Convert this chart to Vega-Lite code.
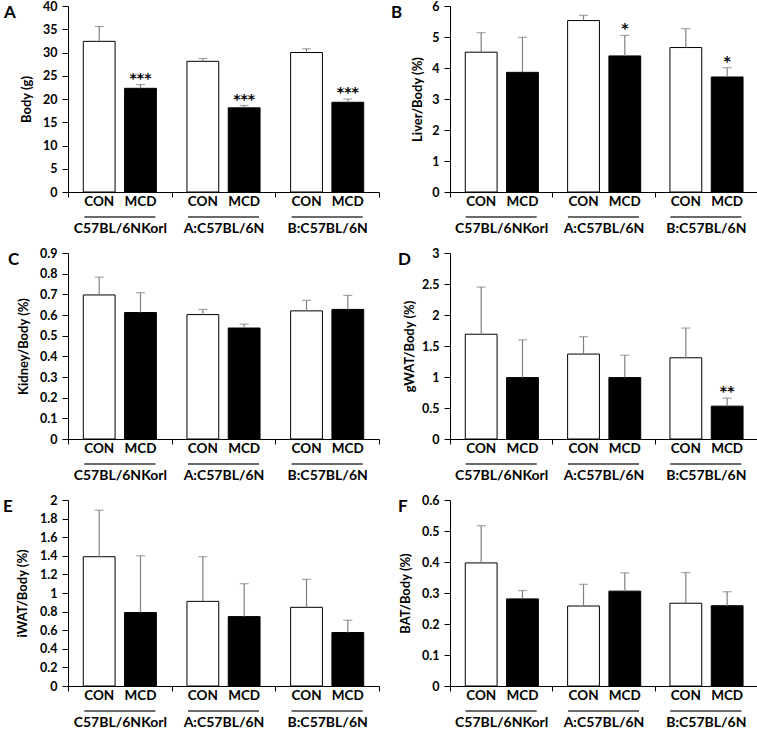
{
  "$schema": "https://vega.github.io/schema/vega-lite/v6.json",
  "background": "white",
  "padding": {"left": 3, "top": 0, "right": 0, "bottom": 0},
  "datasets": {
    "d": [
      {"panel": "A", "strain": "C57BL/6NKorl", "group": "CON", "mean": 32.4, "upper": 35.6, "sig": ""},
      {"panel": "A", "strain": "C57BL/6NKorl", "group": "MCD", "mean": 22.3, "upper": 23.1, "sig": "***"},
      {"panel": "A", "strain": "A:C57BL/6N", "group": "CON", "mean": 28.1, "upper": 28.7, "sig": ""},
      {"panel": "A", "strain": "A:C57BL/6N", "group": "MCD", "mean": 18.1, "upper": 18.6, "sig": "***"},
      {"panel": "A", "strain": "B:C57BL/6N", "group": "CON", "mean": 30.0, "upper": 30.8, "sig": ""},
      {"panel": "A", "strain": "B:C57BL/6N", "group": "MCD", "mean": 19.3, "upper": 20.0, "sig": "***"},
      {"panel": "B", "strain": "C57BL/6NKorl", "group": "CON", "mean": 4.51, "upper": 5.14, "sig": ""},
      {"panel": "B", "strain": "C57BL/6NKorl", "group": "MCD", "mean": 3.86, "upper": 4.99, "sig": ""},
      {"panel": "B", "strain": "A:C57BL/6N", "group": "CON", "mean": 5.53, "upper": 5.70, "sig": ""},
      {"panel": "B", "strain": "A:C57BL/6N", "group": "MCD", "mean": 4.39, "upper": 5.05, "sig": "*"},
      {"panel": "B", "strain": "B:C57BL/6N", "group": "CON", "mean": 4.66, "upper": 5.27, "sig": ""},
      {"panel": "B", "strain": "B:C57BL/6N", "group": "MCD", "mean": 3.71, "upper": 4.01, "sig": "*"},
      {"panel": "C", "strain": "C57BL/6NKorl", "group": "CON", "mean": 0.697, "upper": 0.783, "sig": ""},
      {"panel": "C", "strain": "C57BL/6NKorl", "group": "MCD", "mean": 0.612, "upper": 0.708, "sig": ""},
      {"panel": "C", "strain": "A:C57BL/6N", "group": "CON", "mean": 0.602, "upper": 0.627, "sig": ""},
      {"panel": "C", "strain": "A:C57BL/6N", "group": "MCD", "mean": 0.537, "upper": 0.556, "sig": ""},
      {"panel": "C", "strain": "B:C57BL/6N", "group": "CON", "mean": 0.620, "upper": 0.671, "sig": ""},
      {"panel": "C", "strain": "B:C57BL/6N", "group": "MCD", "mean": 0.627, "upper": 0.695, "sig": ""},
      {"panel": "D", "strain": "C57BL/6NKorl", "group": "CON", "mean": 1.69, "upper": 2.45, "sig": ""},
      {"panel": "D", "strain": "C57BL/6NKorl", "group": "MCD", "mean": 0.99, "upper": 1.60, "sig": ""},
      {"panel": "D", "strain": "A:C57BL/6N", "group": "CON", "mean": 1.37, "upper": 1.65, "sig": ""},
      {"panel": "D", "strain": "A:C57BL/6N", "group": "MCD", "mean": 0.99, "upper": 1.35, "sig": ""},
      {"panel": "D", "strain": "B:C57BL/6N", "group": "CON", "mean": 1.31, "upper": 1.79, "sig": ""},
      {"panel": "D", "strain": "B:C57BL/6N", "group": "MCD", "mean": 0.53, "upper": 0.66, "sig": "**"},
      {"panel": "E", "strain": "C57BL/6NKorl", "group": "CON", "mean": 1.39, "upper": 1.89, "sig": ""},
      {"panel": "E", "strain": "C57BL/6NKorl", "group": "MCD", "mean": 0.79, "upper": 1.40, "sig": ""},
      {"panel": "E", "strain": "A:C57BL/6N", "group": "CON", "mean": 0.91, "upper": 1.39, "sig": ""},
      {"panel": "E", "strain": "A:C57BL/6N", "group": "MCD", "mean": 0.746, "upper": 1.10, "sig": ""},
      {"panel": "E", "strain": "B:C57BL/6N", "group": "CON", "mean": 0.846, "upper": 1.146, "sig": ""},
      {"panel": "E", "strain": "B:C57BL/6N", "group": "MCD", "mean": 0.575, "upper": 0.707, "sig": ""},
      {"panel": "F", "strain": "C57BL/6NKorl", "group": "CON", "mean": 0.397, "upper": 0.517, "sig": ""},
      {"panel": "F", "strain": "C57BL/6NKorl", "group": "MCD", "mean": 0.281, "upper": 0.308, "sig": ""},
      {"panel": "F", "strain": "A:C57BL/6N", "group": "CON", "mean": 0.258, "upper": 0.328, "sig": ""},
      {"panel": "F", "strain": "A:C57BL/6N", "group": "MCD", "mean": 0.306, "upper": 0.365, "sig": ""},
      {"panel": "F", "strain": "B:C57BL/6N", "group": "CON", "mean": 0.267, "upper": 0.366, "sig": ""},
      {"panel": "F", "strain": "B:C57BL/6N", "group": "MCD", "mean": 0.259, "upper": 0.304, "sig": ""}
    ]
  },
  "data": {"name": "d"},
  "columns": 2,
  "bounds": "flush",
  "spacing": {"row": 61, "column": 71},
  "concat": [
    {
      "width": 311, "height": 186,
      "title": {"text": "A", "dx": -64},
      "transform": [{"filter": "datum.panel === 'A'"}],
      "encoding": {"x": {"field": "strain", "type": "nominal", "sort": ["C57BL/6NKorl", "A:C57BL/6N", "B:C57BL/6N"], "scale": {"paddingInner": 0, "paddingOuter": 0}, "axis": {"title": null}}},
      "layer": [
        {"mark": {"type": "bar", "stroke": "black", "strokeWidth": 1}, "encoding": {"xOffset": {"field": "group", "type": "nominal", "sort": ["CON", "MCD"], "scale": {"paddingInner": 0.23, "paddingOuter": 0.37}}, "y": {"field": "mean", "type": "quantitative", "scale": {"domain": [0, 40]}, "axis": {"title": "Body (g)", "tickCount": 8, "titlePadding": 9}}, "fill": {"field": "group", "type": "nominal", "scale": {"domain": ["CON", "MCD"], "range": ["white", "black"]}, "legend": null}}},
        {"mark": {"type": "rule", "color": "#808080", "strokeWidth": 1.2}, "encoding": {"xOffset": {"field": "group", "type": "nominal"}, "y": {"field": "mean", "type": "quantitative"}, "y2": {"field": "upper"}}},
        {"mark": {"type": "tick", "color": "#808080", "size": 9, "thickness": 1.2}, "encoding": {"xOffset": {"field": "group", "type": "nominal"}, "y": {"field": "upper", "type": "quantitative"}}},
        {"mark": {"type": "text", "baseline": "alphabetic", "dy": -2, "fontSize": 14, "fontWeight": "bold", "font": "DejaVu Sans"}, "encoding": {"xOffset": {"field": "group", "type": "nominal"}, "y": {"field": "upper", "type": "quantitative"}, "text": {"field": "sig"}}},
        {"mark": {"type": "text", "baseline": "top", "dy": 3, "fontSize": 13.5, "fontWeight": "bold", "font": "Lato"}, "encoding": {"xOffset": {"field": "group", "type": "nominal"}, "y": {"datum": 0}, "text": {"field": "group"}}},
        {"mark": {"type": "tick", "color": "black", "size": 71, "thickness": 1.2, "yOffset": 25}, "encoding": {"y": {"datum": 0}}}
      ]
    },
    {
      "width": 307, "height": 186,
      "title": {"text": "B", "dx": -59},
      "transform": [{"filter": "datum.panel === 'B'"}],
      "encoding": {"x": {"field": "strain", "type": "nominal", "sort": ["C57BL/6NKorl", "A:C57BL/6N", "B:C57BL/6N"], "scale": {"paddingInner": 0, "paddingOuter": 0}, "axis": {"title": null}}},
      "layer": [
        {"mark": {"type": "bar", "stroke": "black", "strokeWidth": 1}, "encoding": {"xOffset": {"field": "group", "type": "nominal", "sort": ["CON", "MCD"], "scale": {"paddingInner": 0.23, "paddingOuter": 0.37}}, "y": {"field": "mean", "type": "quantitative", "scale": {"domain": [0, 6]}, "axis": {"title": "Liver/Body (%)", "tickCount": 6, "titlePadding": 7}}, "fill": {"field": "group", "type": "nominal", "scale": {"domain": ["CON", "MCD"], "range": ["white", "black"]}, "legend": null}}},
        {"mark": {"type": "rule", "color": "#808080", "strokeWidth": 1.2}, "encoding": {"xOffset": {"field": "group", "type": "nominal"}, "y": {"field": "mean", "type": "quantitative"}, "y2": {"field": "upper"}}},
        {"mark": {"type": "tick", "color": "#808080", "size": 9, "thickness": 1.2}, "encoding": {"xOffset": {"field": "group", "type": "nominal"}, "y": {"field": "upper", "type": "quantitative"}}},
        {"mark": {"type": "text", "baseline": "alphabetic", "dy": -2, "fontSize": 14, "fontWeight": "bold", "font": "DejaVu Sans"}, "encoding": {"xOffset": {"field": "group", "type": "nominal"}, "y": {"field": "upper", "type": "quantitative"}, "text": {"field": "sig"}}},
        {"mark": {"type": "text", "baseline": "top", "dy": 3, "fontSize": 13.5, "fontWeight": "bold", "font": "Lato"}, "encoding": {"xOffset": {"field": "group", "type": "nominal"}, "y": {"datum": 0}, "text": {"field": "group"}}},
        {"mark": {"type": "tick", "color": "black", "size": 71, "thickness": 1.2, "yOffset": 25}, "encoding": {"y": {"datum": 0}}}
      ]
    },
    {
      "width": 311, "height": 186,
      "title": {"text": "C", "dx": -60},
      "transform": [{"filter": "datum.panel === 'C'"}],
      "encoding": {"x": {"field": "strain", "type": "nominal", "sort": ["C57BL/6NKorl", "A:C57BL/6N", "B:C57BL/6N"], "scale": {"paddingInner": 0, "paddingOuter": 0}, "axis": {"title": null}}},
      "layer": [
        {"mark": {"type": "bar", "stroke": "black", "strokeWidth": 1}, "encoding": {"xOffset": {"field": "group", "type": "nominal", "sort": ["CON", "MCD"], "scale": {"paddingInner": 0.23, "paddingOuter": 0.37}}, "y": {"field": "mean", "type": "quantitative", "scale": {"domain": [0, 0.9]}, "axis": {"title": "Kidney/Body (%)", "tickCount": 9, "titlePadding": 9}}, "fill": {"field": "group", "type": "nominal", "scale": {"domain": ["CON", "MCD"], "range": ["white", "black"]}, "legend": null}}},
        {"mark": {"type": "rule", "color": "#808080", "strokeWidth": 1.2}, "encoding": {"xOffset": {"field": "group", "type": "nominal"}, "y": {"field": "mean", "type": "quantitative"}, "y2": {"field": "upper"}}},
        {"mark": {"type": "tick", "color": "#808080", "size": 9, "thickness": 1.2}, "encoding": {"xOffset": {"field": "group", "type": "nominal"}, "y": {"field": "upper", "type": "quantitative"}}},
        {"mark": {"type": "text", "baseline": "top", "dy": 3, "fontSize": 13.5, "fontWeight": "bold", "font": "Lato"}, "encoding": {"xOffset": {"field": "group", "type": "nominal"}, "y": {"datum": 0}, "text": {"field": "group"}}},
        {"mark": {"type": "tick", "color": "black", "size": 71, "thickness": 1.2, "yOffset": 25}, "encoding": {"y": {"datum": 0}}}
      ]
    },
    {
      "width": 307, "height": 186,
      "title": {"text": "D", "dx": -52},
      "transform": [{"filter": "datum.panel === 'D'"}],
      "encoding": {"x": {"field": "strain", "type": "nominal", "sort": ["C57BL/6NKorl", "A:C57BL/6N", "B:C57BL/6N"], "scale": {"paddingInner": 0, "paddingOuter": 0}, "axis": {"title": null}}},
      "layer": [
        {"mark": {"type": "bar", "stroke": "black", "strokeWidth": 1}, "encoding": {"xOffset": {"field": "group", "type": "nominal", "sort": ["CON", "MCD"], "scale": {"paddingInner": 0.23, "paddingOuter": 0.37}}, "y": {"field": "mean", "type": "quantitative", "scale": {"domain": [0, 3]}, "axis": {"title": "gWAT/Body (%)", "tickCount": 6, "titlePadding": 5}}, "fill": {"field": "group", "type": "nominal", "scale": {"domain": ["CON", "MCD"], "range": ["white", "black"]}, "legend": null}}},
        {"mark": {"type": "rule", "color": "#808080", "strokeWidth": 1.2}, "encoding": {"xOffset": {"field": "group", "type": "nominal"}, "y": {"field": "mean", "type": "quantitative"}, "y2": {"field": "upper"}}},
        {"mark": {"type": "tick", "color": "#808080", "size": 9, "thickness": 1.2}, "encoding": {"xOffset": {"field": "group", "type": "nominal"}, "y": {"field": "upper", "type": "quantitative"}}},
        {"mark": {"type": "text", "baseline": "alphabetic", "dy": -2, "fontSize": 14, "fontWeight": "bold", "font": "DejaVu Sans"}, "encoding": {"xOffset": {"field": "group", "type": "nominal"}, "y": {"field": "upper", "type": "quantitative"}, "text": {"field": "sig"}}},
        {"mark": {"type": "text", "baseline": "top", "dy": 3, "fontSize": 13.5, "fontWeight": "bold", "font": "Lato"}, "encoding": {"xOffset": {"field": "group", "type": "nominal"}, "y": {"datum": 0}, "text": {"field": "group"}}},
        {"mark": {"type": "tick", "color": "black", "size": 71, "thickness": 1.2, "yOffset": 25}, "encoding": {"y": {"datum": 0}}}
      ]
    },
    {
      "width": 311, "height": 186,
      "title": {"text": "E", "dx": -65},
      "transform": [{"filter": "datum.panel === 'E'"}],
      "encoding": {"x": {"field": "strain", "type": "nominal", "sort": ["C57BL/6NKorl", "A:C57BL/6N", "B:C57BL/6N"], "scale": {"paddingInner": 0, "paddingOuter": 0}, "axis": {"title": null}}},
      "layer": [
        {"mark": {"type": "bar", "stroke": "black", "strokeWidth": 1}, "encoding": {"xOffset": {"field": "group", "type": "nominal", "sort": ["CON", "MCD"], "scale": {"paddingInner": 0.23, "paddingOuter": 0.37}}, "y": {"field": "mean", "type": "quantitative", "scale": {"domain": [0, 2]}, "axis": {"title": "iWAT/Body (%)", "tickCount": 10, "titlePadding": 10}}, "fill": {"field": "group", "type": "nominal", "scale": {"domain": ["CON", "MCD"], "range": ["white", "black"]}, "legend": null}}},
        {"mark": {"type": "rule", "color": "#808080", "strokeWidth": 1.2}, "encoding": {"xOffset": {"field": "group", "type": "nominal"}, "y": {"field": "mean", "type": "quantitative"}, "y2": {"field": "upper"}}},
        {"mark": {"type": "tick", "color": "#808080", "size": 9, "thickness": 1.2}, "encoding": {"xOffset": {"field": "group", "type": "nominal"}, "y": {"field": "upper", "type": "quantitative"}}},
        {"mark": {"type": "text", "baseline": "top", "dy": 3, "fontSize": 13.5, "fontWeight": "bold", "font": "Lato"}, "encoding": {"xOffset": {"field": "group", "type": "nominal"}, "y": {"datum": 0}, "text": {"field": "group"}}},
        {"mark": {"type": "tick", "color": "black", "size": 71, "thickness": 1.2, "yOffset": 25}, "encoding": {"y": {"datum": 0}}}
      ]
    },
    {
      "width": 307, "height": 186,
      "title": {"text": "F", "dx": -52},
      "transform": [{"filter": "datum.panel === 'F'"}],
      "encoding": {"x": {"field": "strain", "type": "nominal", "sort": ["C57BL/6NKorl", "A:C57BL/6N", "B:C57BL/6N"], "scale": {"paddingInner": 0, "paddingOuter": 0}, "axis": {"title": null}}},
      "layer": [
        {"mark": {"type": "bar", "stroke": "black", "strokeWidth": 1}, "encoding": {"xOffset": {"field": "group", "type": "nominal", "sort": ["CON", "MCD"], "scale": {"paddingInner": 0.23, "paddingOuter": 0.37}}, "y": {"field": "mean", "type": "quantitative", "scale": {"domain": [0, 0.6]}, "axis": {"title": "BAT/Body (%)", "tickCount": 6, "titlePadding": 9}}, "fill": {"field": "group", "type": "nominal", "scale": {"domain": ["CON", "MCD"], "range": ["white", "black"]}, "legend": null}}},
        {"mark": {"type": "rule", "color": "#808080", "strokeWidth": 1.2}, "encoding": {"xOffset": {"field": "group", "type": "nominal"}, "y": {"field": "mean", "type": "quantitative"}, "y2": {"field": "upper"}}},
        {"mark": {"type": "tick", "color": "#808080", "size": 9, "thickness": 1.2}, "encoding": {"xOffset": {"field": "group", "type": "nominal"}, "y": {"field": "upper", "type": "quantitative"}}},
        {"mark": {"type": "text", "baseline": "top", "dy": 3, "fontSize": 13.5, "fontWeight": "bold", "font": "Lato"}, "encoding": {"xOffset": {"field": "group", "type": "nominal"}, "y": {"datum": 0}, "text": {"field": "group"}}},
        {"mark": {"type": "tick", "color": "black", "size": 71, "thickness": 1.2, "yOffset": 25}, "encoding": {"y": {"datum": 0}}}
      ]
    }
  ],
  "config": {
    "font": "Lato",
    "view": {"stroke": null},
    "title": {"anchor": "start", "frame": "group", "fontSize": 17, "fontWeight": "bold", "font": "Lato", "color": "black", "baseline": "top", "offset": -22},
    "axis": {"domainColor": "black", "tickColor": "black", "labelColor": "black", "titleColor": "black", "labelFont": "Lato", "titleFont": "Lato", "labelFontWeight": "bold", "titleFontWeight": "bold", "labelFontSize": 12.5, "titleFontSize": 13, "grid": false, "tickSize": 6, "labelPadding": 5},
    "axisY": {"format": "~g"},
    "axisX": {"labelFontSize": 14, "labelPadding": 24, "tickSize": 5, "tickBand": "extent", "labelAngle": 0}
  }
}
